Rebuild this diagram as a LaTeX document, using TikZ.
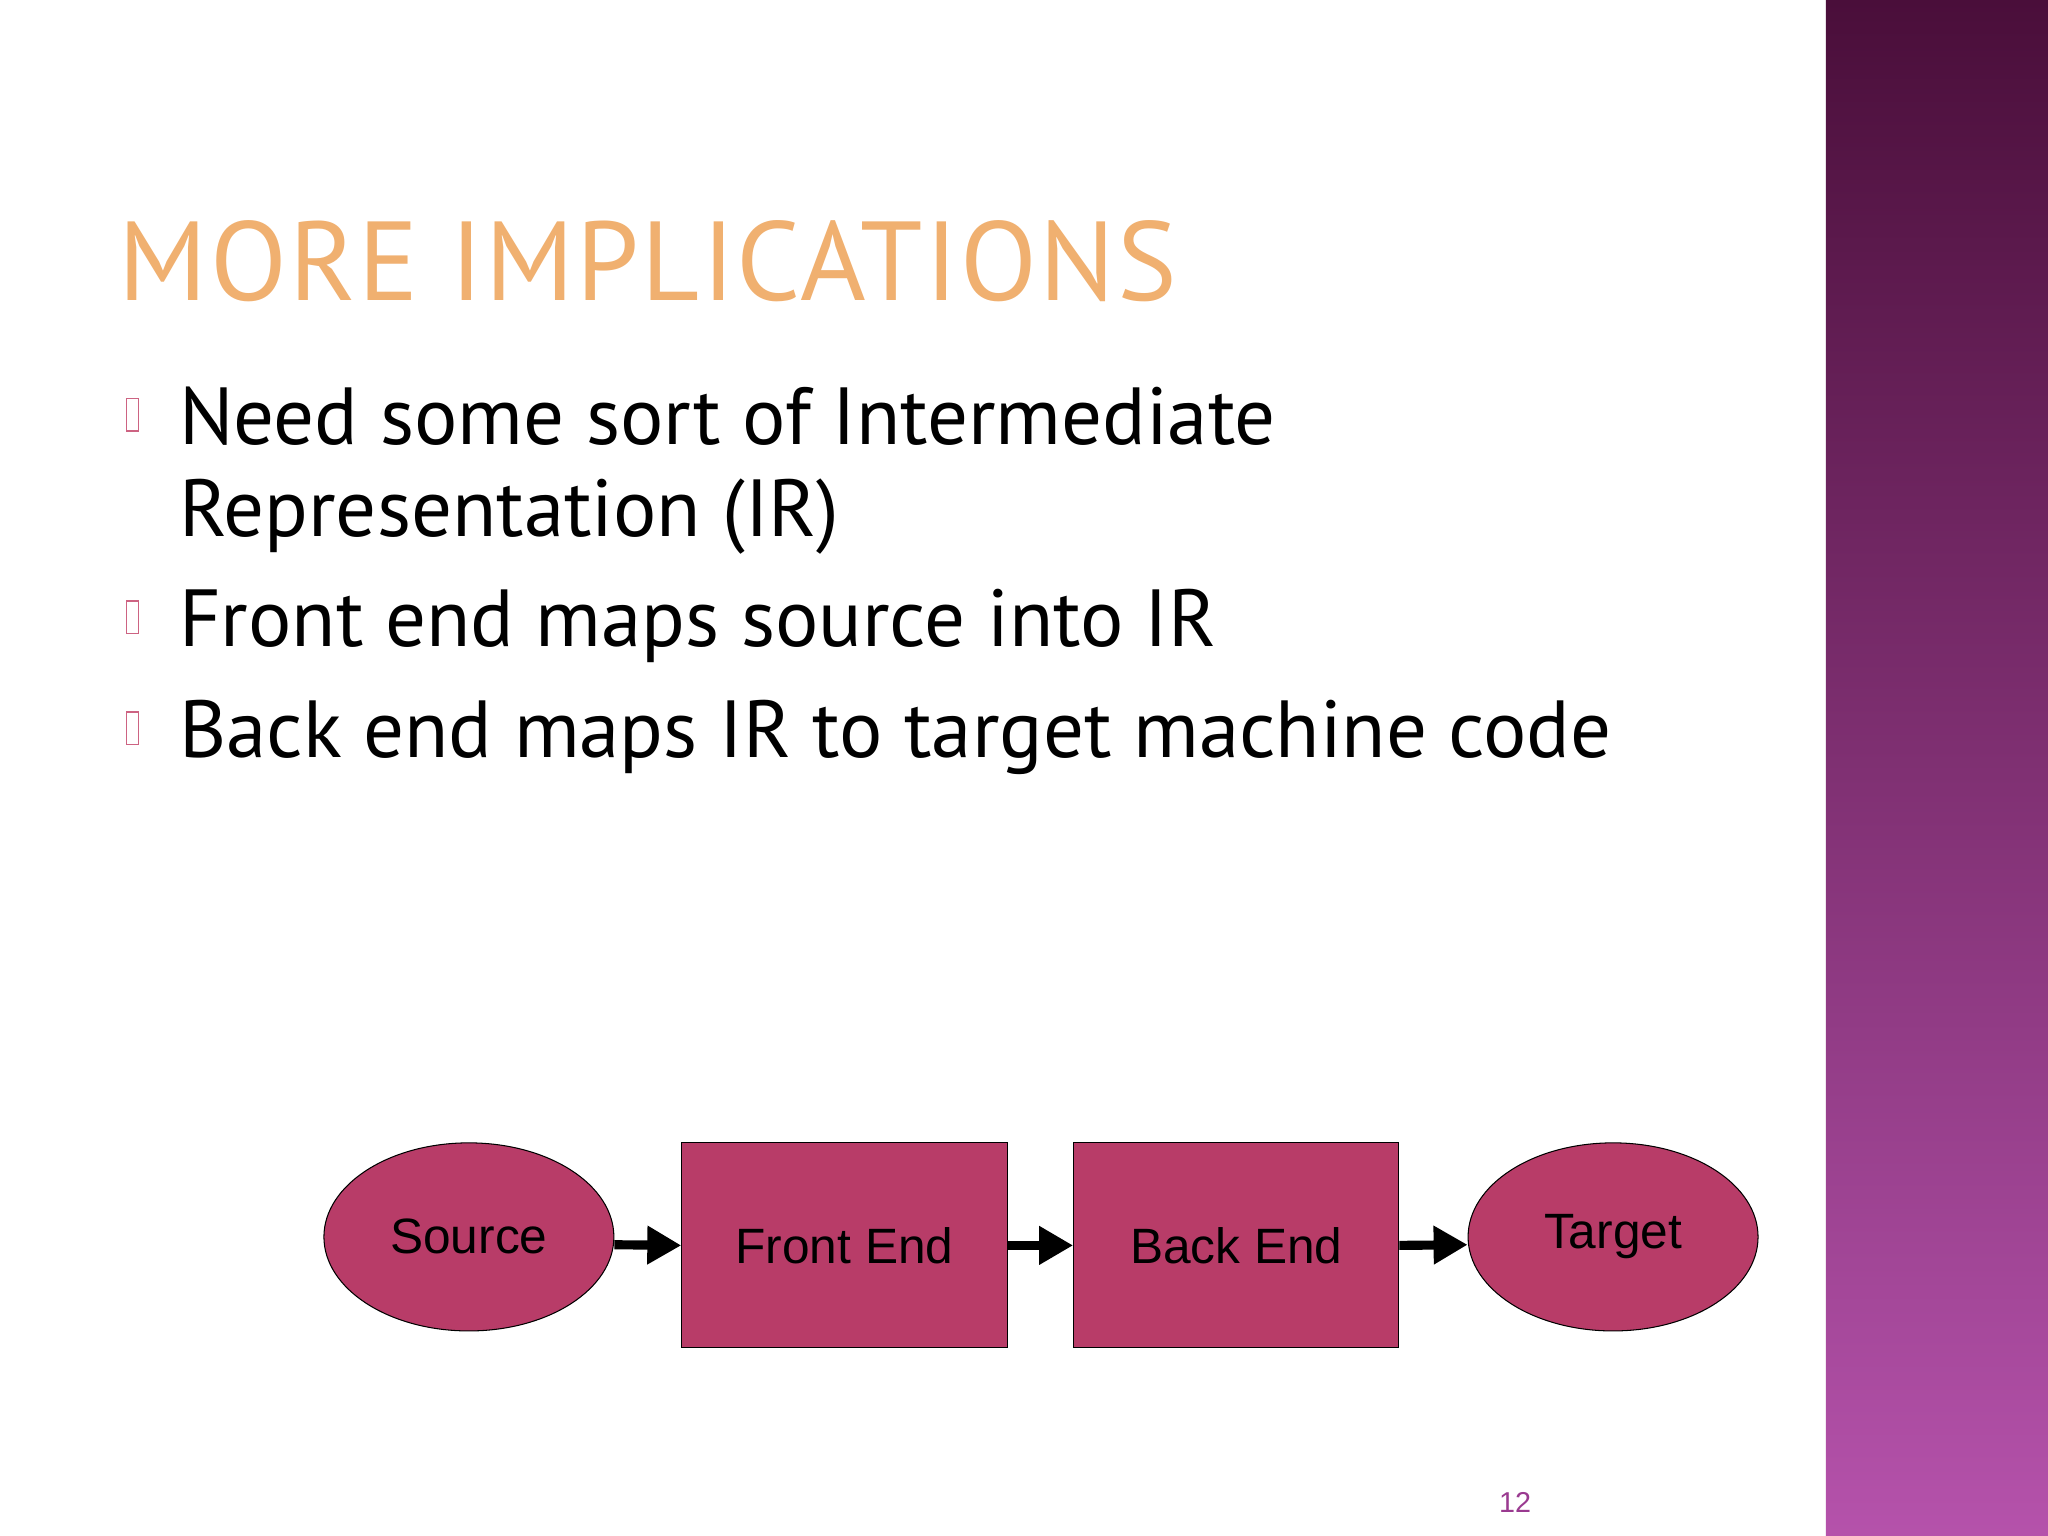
\documentclass[tikz,border=0pt]{standalone}
\usepackage{fontspec}
\setmainfont{PT Sans}
\newfontfamily\arialf{Liberation Sans}
\usetikzlibrary{shapes.geometric,arrows.meta}
\definecolor{boxfill}{HTML}{B83C68}
\definecolor{ptop}{HTML}{4A0E3A}
\definecolor{pbot}{HTML}{B552AB}
\definecolor{ttl}{HTML}{F0B070}
\definecolor{pgc}{HTML}{9A3A90}
\tikzset{
  ell/.style={ellipse,draw=black,fill=boxfill,inner sep=0pt,minimum width=111pt,minimum height=72pt,font=\arialf\fontsize{19}{19}\selectfont},
  rbox/.style={rectangle,draw=black,fill=boxfill,inner sep=0pt,minimum width=124.5pt,minimum height=78.5pt,font=\arialf\fontsize{19}{19}\selectfont},
  conn/.style={line width=3.5pt,-{Triangle[length=13pt,width=14pt]}},
  bul/.style={anchor=base west,font=\fontsize{31}{37}\selectfont},
  bbox/.style={draw=boxfill!70!pink,line width=0.6pt}
}
\begin{document}
\begin{tikzpicture}[x=0.5pt,y=-0.5pt]
\useasboundingbox (0,0) rectangle (1568,1176);
\fill[white] (0,0) rectangle (1568,1176);
\shade[top color=ptop,bottom color=pbot] (1398,0) rectangle (1568,1176);
\node[anchor=base west,font=\fontsize{43}{43}\selectfont,text=ttl] (title) at (84,230) {\addfontfeature{LetterSpace=2}MORE IMPLICATIONS};
\node[bul] (b1) at (130,340) {Need some sort of Intermediate};
\node[bul] (b1b) at (130,411) {Representation (IR)};
\node[bul] (b2) at (130,495) {Front end maps source into IR};
\node[bul] (b3) at (130,580) {Back end maps IR to target machine code};
\draw[bbox] (97,305) rectangle (106,330);
\draw[bbox] (97,460) rectangle (106,485);
\draw[bbox] (97,545) rectangle (106,570);
\node[ell] (src) at (359,947) {Source};
\node[rbox] (fe) at (646.5,953.5) {Front End};
\node[rbox] (be) at (946.5,953.5) {Back End};
\node[ell] (tgt) at (1235,947) {Target};
\draw[conn] ([yshift=-3pt]src.east) -- (fe.west);
\draw[conn] (fe.east) -- (be.west);
\draw[conn] (be.east) -- ([yshift=-3pt]tgt.west);
\node[font=\arialf\fontsize{11}{11}\selectfont,text=pgc] (pg) at (1160,1150) {12};
\end{tikzpicture}
\end{document}
